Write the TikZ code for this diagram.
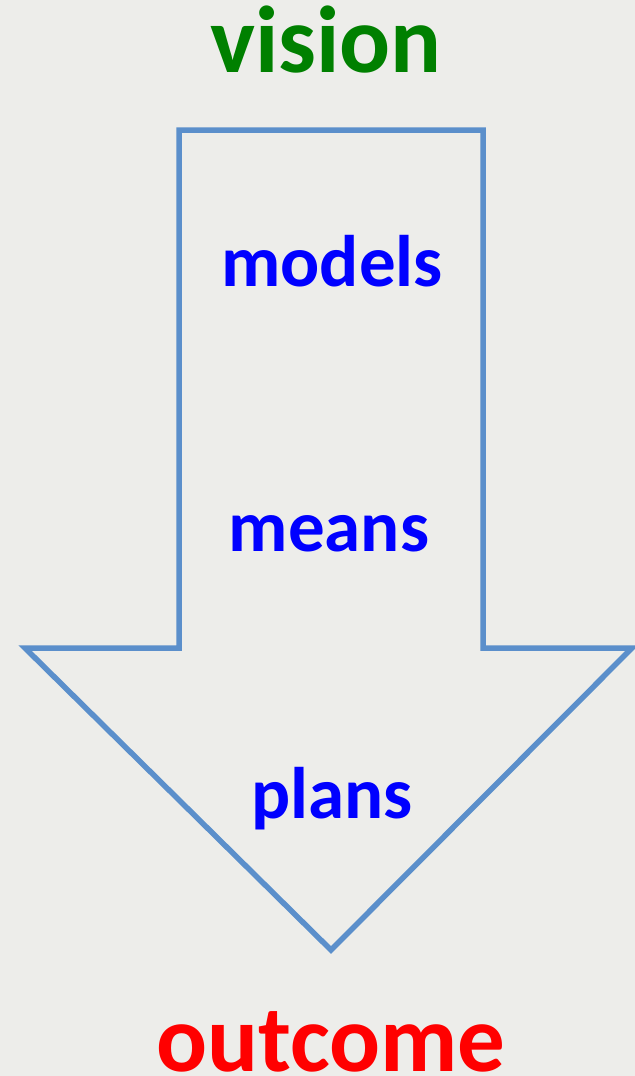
\documentclass[tikz,border=0pt]{standalone}
\usepackage{fontspec}
\setmainfont{Carlito}
\definecolor{bgc}{HTML}{EDEDEA}
\definecolor{arrowc}{HTML}{5B8FCB}
\definecolor{visc}{HTML}{008000}
\definecolor{midc}{HTML}{0000FF}
\definecolor{outc}{HTML}{FF0000}
\begin{document}
\begin{tikzpicture}[x=1bp,y=-1bp,
  bigword/.style={font=\bfseries\fontsize{95bp}{100bp}\selectfont, anchor=base, inner sep=0pt},
  midword/.style={font=\bfseries\fontsize{73bp}{76bp}\selectfont, text=midc, anchor=base, inner sep=0pt}]
\fill[bgc] (0,0) rectangle (635,1076);
\useasboundingbox (0,0) rectangle (635,1076);
\draw[arrowc, line width=5.5bp, line join=miter]
  (179,130) -- (483,130) -- (483,648) -- (632,648) -- (331,950) -- (25,648) -- (179,648) -- cycle;
\node[bigword, text=visc] (vision) at (326,72) {vision};
\node[midword] (models) at (332,286) {models};
\node[midword] (means) at (329,551) {means};
\node[midword] (plans) at (332,818) {plans};
\node[bigword, text=outc] (outcome) at (331,1071) {outcome};
\end{tikzpicture}
\end{document}
